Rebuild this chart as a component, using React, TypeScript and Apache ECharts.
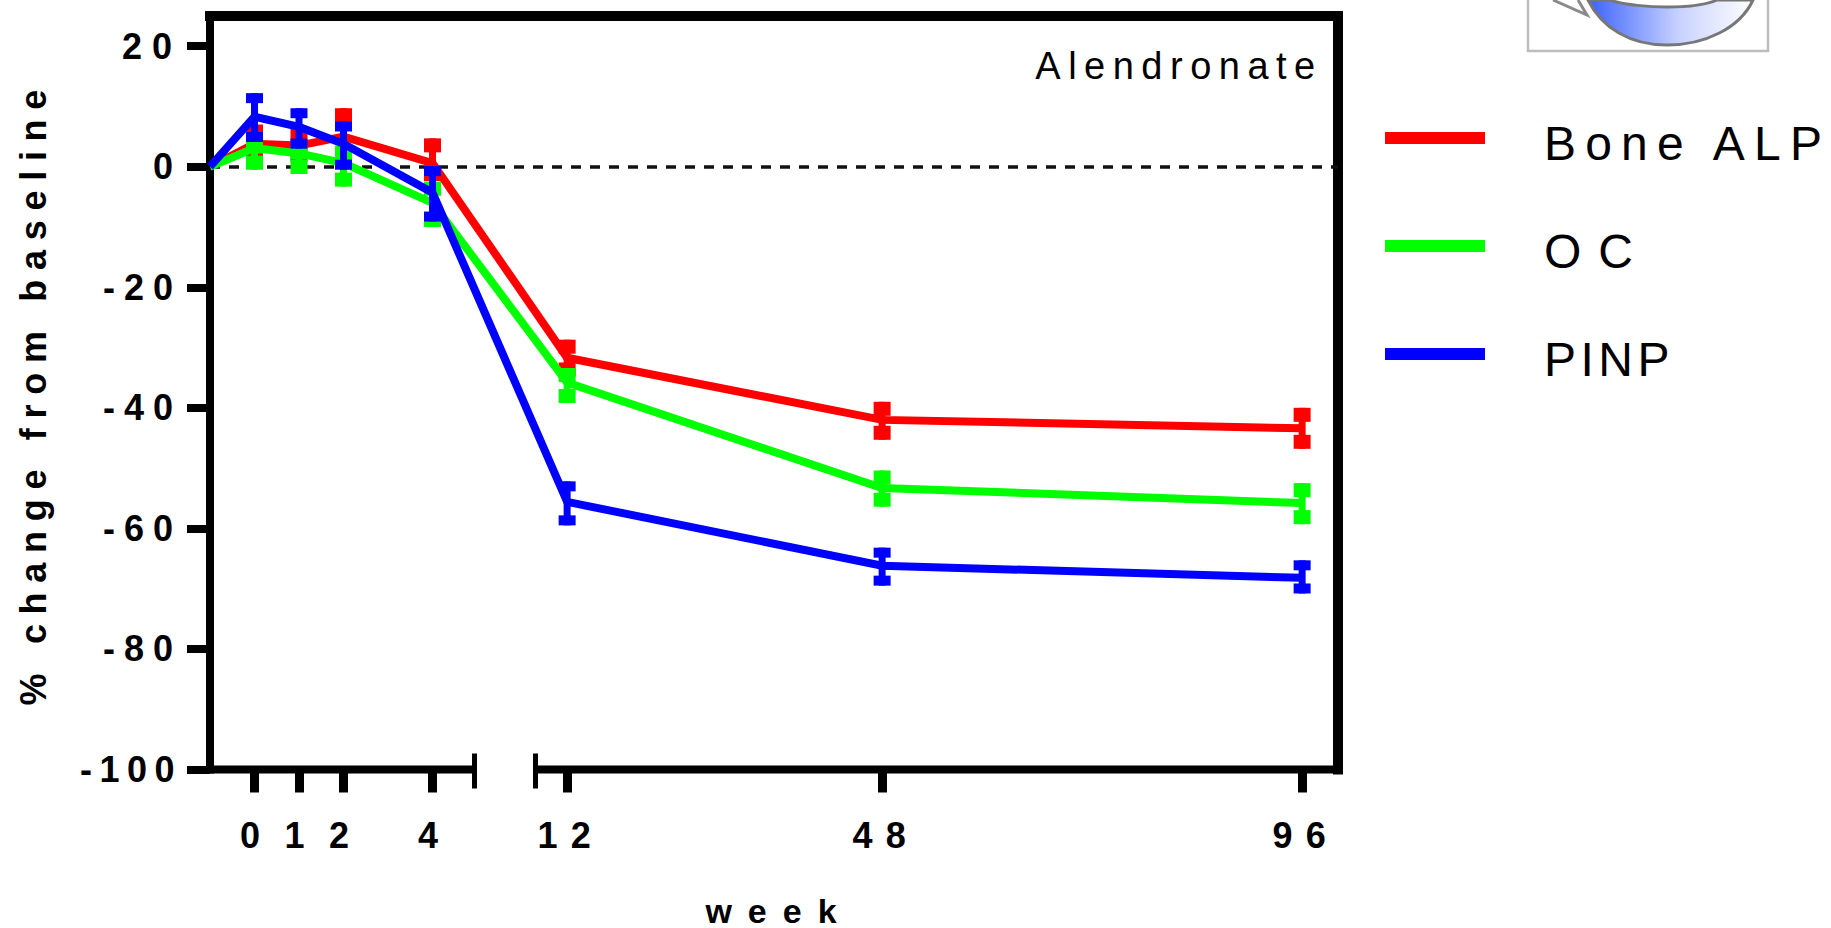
import React, { useEffect, useRef } from "react";
import * as echarts from "echarts";

const weeks = [-1, 0, 1, 2, 4, 12, 48, 96];
const tickWeeks = [0, 1, 2, 4, 12, 48, 96];
const yTicks = [-100, -80, -60, -40, -20, 0, 20];

const boneAlp = [0, 3.8, 3.5, 5, 0.6, -31.7, -42, -43.4];
const boneAlpLow = [0, 1, 0.8, 1, -2.4, -34.8, -45.3, -46.8];
const boneAlpHigh = [0, 7, 6.5, 9.7, 4.7, -28.7, -39, -40];

const oc = [0, 3.1, 2.2, 0.6, -6, -35.8, -53.3, -55.8];
const ocLow = [0, -0.5, -1.2, -3.3, -10, -39.2, -56.4, -59.3];
const ocHigh = [0, 4.5, 3.5, 3.5, -2.5, -33.4, -50.4, -52.5];

const pinp = [0, 8.3, 6.6, 3.8, -4.3, -55.6, -66.2, -68.2];
const pinpLow = [0, 4.1, 3, -0.5, -9.1, -59.5, -69.5, -70.8];
const pinpHigh = [0, 12.2, 9.7, 7.5, 0.1, -52.2, -63.2, -65.3];

// broken x scale: weeks up to the break run at full scale, then a gap, then a compressed scale
const BREAK_START = 5;
const BREAK_END = 8.1;
const GAP_UNITS = 56 / 44.5;
const RATIO = 8.75 / 44.5;
const toAxis = (w: number) =>
  w <= BREAK_START ? w : BREAK_START + GAP_UNITS + (w - BREAK_END) * RATIO;
const X_MIN = -1;
const X_MAX = toAxis(100.1);

const series3 = [
  { name: "Bone ALP", color: "#ff0000", mid: boneAlp, low: boneAlpLow, high: boneAlpHigh, cap: 14, z: 3 },
  { name: "OC", color: "#00ff00", mid: oc, low: ocLow, high: ocHigh, cap: 14, z: 4 },
  { name: "PINP", color: "#0000ff", mid: pinp, low: pinpLow, high: pinpHigh, cap: 10, z: 5 },
];

const FONT = "'Liberation Sans', Arial, sans-serif";

echarts.graphic.registerShape(
  "crescent",
  echarts.graphic.extendPath(
    "M1588 0 C1602 28 1630 45 1667 45 C1705 45 1740 28 1753 0 L1717 0 C1704 6 1682 7 1667 7 C1650 7 1624 5 1610 0 Z",
    {}
  )
);
echarts.graphic.registerShape(
  "arrowTip",
  echarts.graphic.extendPath("M1553 0 L1587 15 L1578 0", {})
);

const spacing = (t: string) => {
  if (t === "Alendronate") return "7.5px";
  if (t === "Bone ALP") return "9.2px";
  if (t === "OC") return "17px";
  if (t === "PINP") return "4.5px";
  if (t === "week") return "16px";
  if (t.startsWith("%")) return "9.7px";
  if (t === "12" || t === "48" || t === "96") return "13px";
  if (t === "20") return "10px";
  if (t === "-100") return "7.5px";
  return "9px";
};

// small nudges that make up for the trailing letter-space and for the legend's text baseline
const nudge = (t: string): [number, number] => {
  if (t === "Bone ALP" || t === "OC" || t === "PINP") return [0, 5];
  if (t === "12" || t === "48" || t === "96") return [3.5, 0];
  if (t === "week") return [5, 0];
  return [0, 0];
};

export default function App() {
  const ref = useRef<HTMLDivElement>(null);
  useEffect(() => {
    document.body.style.margin = "0";
    const chart = echarts.init(ref.current!, null, { renderer: "svg" });
    const applySpacing = () => {
      ref.current?.querySelectorAll("text").forEach((el) => {
        const t = el.textContent || "";
        (el as SVGTextElement).style.letterSpacing = spacing(t);
        const [dx, dy] = nudge(t);
        if (dx) el.setAttribute("dx", String(dx));
        if (dy) el.setAttribute("dy", String(dy));
      });
    };
    const lines = series3.map((s) => ({
      name: s.name,
      type: "line",
      xAxisIndex: 0,
      yAxisIndex: 0,
      z: s.z,
      symbol: "none",
      color: s.color,
      lineStyle: { color: s.color, width: 8, join: "miter" },
      itemStyle: { color: s.color },
      data: weeks.map((w, i) => [toAxis(w), s.mid[i]]),
      markLine:
        s.name === "Bone ALP"
          ? {
              silent: true,
              symbol: "none",
              label: { show: false },
              z: 1,
              lineStyle: { color: "#111", type: [10, 9], width: 3.5 },
              data: [{ yAxis: 0 }],
            }
          : undefined,
    }));
    const bars = series3.map((s) => ({
      type: "custom",
      name: s.name + " error",
      xAxisIndex: 0,
      yAxisIndex: 0,
      z: s.z,
      encode: { x: 0, y: [1, 2] },
      data: weeks
        .map((w, i) => [toAxis(w), s.low[i], s.high[i]])
        .filter((_, i) => weeks[i] >= 0),
      renderItem: (_: any, api: any) => {
        const top = api.coord([api.value(0), api.value(2)]);
        const bot = api.coord([api.value(0), api.value(1)]);
        const style = { fill: s.color };
        return {
          type: "group",
          children: [
            { type: "rect", shape: { x: top[0] - 3.5, y: top[1], width: 7, height: bot[1] - top[1] }, style },
            { type: "rect", shape: { x: top[0] - 8.5, y: top[1], width: 17, height: s.cap }, style },
            { type: "rect", shape: { x: top[0] - 8.5, y: bot[1] - s.cap, width: 17, height: s.cap }, style },
          ],
        };
      },
    }));
    const axisLine = {
      type: "custom",
      name: "axis",
      xAxisIndex: 0,
      yAxisIndex: 0,
      z: 6,
      clip: false,
      encode: { x: [0, 1], y: 2 },
      data: [
        [X_MIN, BREAK_START, -100, 1],
        [BREAK_START + GAP_UNITS, X_MAX, -100, 0],
      ],
      renderItem: (_: any, api: any) => {
        const a = api.coord([api.value(0), api.value(2)]);
        const b = api.coord([api.value(1), api.value(2)]);
        const style = { fill: "#000" };
        const capX = api.value(3) === 1 ? b[0] - 5 : a[0];
        return {
          type: "group",
          children: [
            { type: "rect", shape: { x: a[0], y: a[1] - 4, width: b[0] - a[0], height: 8 }, style },
            { type: "rect", shape: { x: capX, y: a[1] - 16, width: 5, height: 35 }, style },
          ],
        };
      },
    };
    chart.setOption({
      animation: false,
      backgroundColor: "#fff",
      textStyle: { fontFamily: FONT },
      grid: { left: 210, right: 493, top: 16, bottom: 158.5, containLabel: false, outerBoundsMode: "none" },
      legend: {
        data: series3.map((s) => s.name),
        orient: "vertical",
        left: 1385,
        top: 114,
        padding: 0,
        icon: "rect",
        itemWidth: 100,
        itemHeight: 12,
        itemGap: 60,
        textStyle: { fontFamily: FONT, fontSize: 48, color: "#000", padding: [16, 0, 0, 54] },
      },
      xAxis: [
        {
          type: "value",
          min: X_MIN,
          max: X_MAX,
          position: "bottom",
          axisLine: { show: false, onZero: false },
          splitLine: { show: false },
          axisTick: {
            show: true,
            customValues: tickWeeks.map(toAxis),
            length: 23,
            inside: false,
            lineStyle: { color: "#000", width: 9 },
          },
          axisLabel: {
            customValues: tickWeeks.map(toAxis),
            margin: 48,
            fontFamily: FONT,
            fontWeight: "bold",
            fontSize: 36,
            color: "#000",
            formatter: (v: number) => {
              const i = tickWeeks.findIndex((w) => Math.abs(toAxis(w) - v) < 1e-6);
              return i >= 0 ? String(tickWeeks[i]) : "";
            },
          },
          name: "week",
          nameLocation: "middle",
          nameGap: 124,
          nameTextStyle: { fontFamily: FONT, fontWeight: "bold", fontSize: 34, color: "#000" },
        },
        {
          type: "value",
          min: X_MIN,
          max: X_MAX,
          position: "top",
          axisLine: { show: true, onZero: false, lineStyle: { color: "#000", width: 10, cap: "square" } },
          axisTick: { show: false },
          axisLabel: { show: false },
          splitLine: { show: false },
        },
      ],
      yAxis: [
        {
          type: "value",
          min: -100,
          max: 25,
          position: "left",
          axisLine: { show: true, onZero: false, lineStyle: { color: "#000", width: 8, cap: "square" } },
          splitLine: { show: false },
          axisTick: {
            show: true,
            customValues: yTicks,
            length: 23,
            lineStyle: { color: "#000", width: 8 },
          },
          axisLabel: {
            customValues: yTicks,
            margin: 28,
            fontFamily: FONT,
            fontWeight: "bold",
            fontSize: 36,
            color: "#000",
          },
          name: "% change from baseline",
          nameLocation: "middle",
          nameRotate: 90,
          nameGap: 159,
          nameTextStyle: { fontFamily: FONT, fontWeight: "bold", fontSize: 36, color: "#000" },
        },
        {
          type: "value",
          min: -100,
          max: 25,
          position: "right",
          axisLine: { show: true, onZero: false, lineStyle: { color: "#000", width: 10, cap: "square" } },
          axisTick: { show: false },
          axisLabel: { show: false },
          splitLine: { show: false },
        },
      ],
      graphic: [
        {
          type: "text",
          x: 1179,
          y: 66,
          style: {
            text: "Alendronate",
            fontFamily: FONT,
            fontSize: 38,
            fill: "#000",
            align: "center",
            verticalAlign: "middle",
          },
        },
        {
          type: "rect",
          shape: { x: 1528, y: -10, width: 240, height: 61 },
          style: { fill: "#fff", stroke: "#bdbdbd", lineWidth: 2.5 },
        },
        {
          type: "arrowTip",
          style: { fill: "#fff", stroke: "#8a8a8a", lineWidth: 3 },
        },
        {
          type: "crescent",
          style: {
            fill: new echarts.graphic.LinearGradient(0, 0, 1, 0, [
              { offset: 0, color: "#3a62ff" },
              { offset: 0.55, color: "#c8d2ff" },
              { offset: 1, color: "#ffffff" },
            ]),
            stroke: "#777",
            lineWidth: 3,
          },
        },
      ],
      series: [...lines, ...bars, axisLine],
    });
    applySpacing();
    chart.on("finished", applySpacing);
    return () => chart.dispose();
  }, []);
  return <div ref={ref} style={{ position: "fixed", left: 0, top: 0, width: 1831, height: 928 }} />;
}
